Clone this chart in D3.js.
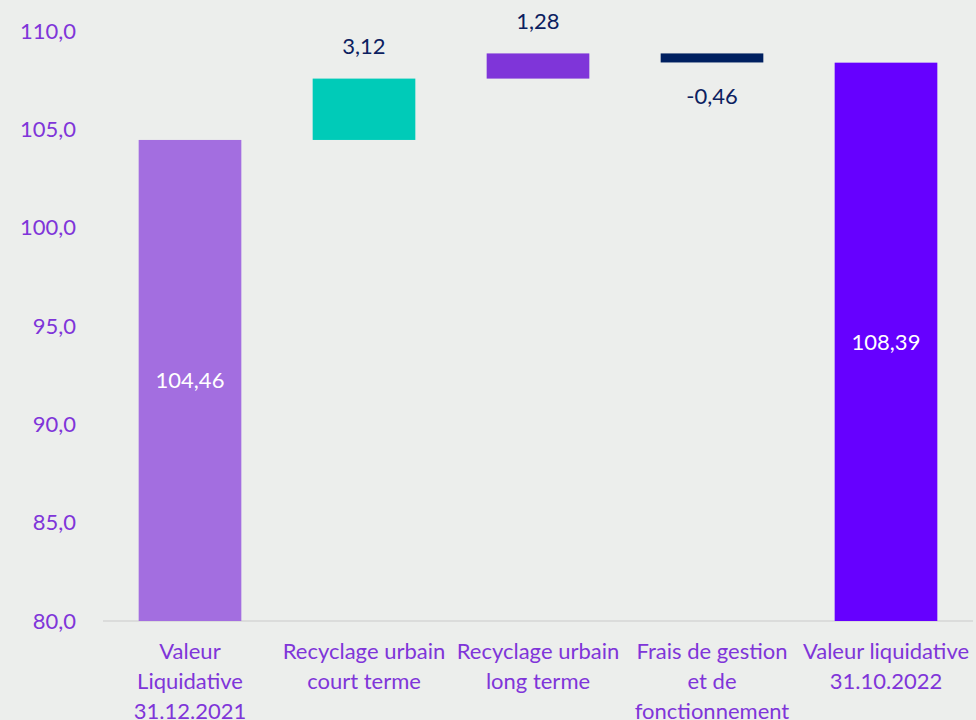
<!DOCTYPE html>
<html>
<head>
<meta charset="utf-8">
<script src="https://cdn.jsdelivr.net/npm/d3@7"></script>
<style>
  body { margin: 0; background: #eceeec; }
  svg { display: block; font-family: Lato, "Open Sans", sans-serif; }
</style>
</head>
<body>
<div id="chart"></div>
<script>
var w = 976, h = 720;

// waterfall data
var categories = [
    ["Valeur", "Liquidative", "31.12.2021"],
    ["Recyclage urbain", "court terme"],
    ["Recyclage urbain", "long terme"],
    ["Frais de gestion", "et de", "fonctionnement"],
    ["Valeur liquidative", "31.10.2022"]
];
var values = [104.46, 3.12, 1.28, -0.46, 108.39];
var isTotal = [true, false, false, false, true];
var barColors = ["#a36ee0", "#00cbb8", "#7f35d9", "#002060", "#6600ff"];
var yTicks = [80, 85, 90, 95, 100, 105, 110];

// compute start/end of each bar
var bars = [];
var running = 0;
values.forEach(function(v, i) {
    var start, end;
    if (isTotal[i]) { start = 80; end = v; running = v; }
    else { start = running; end = running + v; running = end; }
    bars.push({ i: i, value: v, start: start, end: end, total: isTotal[i] });
});

var svg = d3.select("#chart").append("svg")
    .attr("width", w)
    .attr("height", h);

svg.append("rect").attr("width", w).attr("height", h).attr("fill", "#eceeec");

var xScale = d3.scaleBand()
    .domain(d3.range(values.length))
    .range([103, 973])
    .paddingInner(0.41)
    .paddingOuter(0.205);

var yScale = d3.scaleLinear()
    .domain([80, 110])
    .range([621, 31]);

// y axis labels
var yAxis = svg.append("g")
    .attr("transform", "translate(76,0)")
    .call(d3.axisLeft(yScale).tickValues(yTicks).tickSize(0).tickPadding(0)
        .tickFormat(function(d) { return d3.format(".1f")(d).replace(".", ","); }));
yAxis.select(".domain").remove();
yAxis.selectAll("text")
    .style("font-family", "Lato, sans-serif")
    .style("font-size", "22px")
    .style("fill", "#7f35d9");

// baseline
svg.append("line")
    .attr("x1", 103).attr("x2", 973)
    .attr("y1", yScale(80)).attr("y2", yScale(80))
    .style("stroke", "#d6d6d6")
    .style("stroke-width", 1.5);

// bars
svg.selectAll(".bar")
    .data(bars)
    .enter().append("rect")
    .attr("class", "bar")
    .attr("x", d => xScale(d.i))
    .attr("width", xScale.bandwidth())
    .attr("y", d => yScale(Math.max(d.start, d.end)))
    .attr("height", d => Math.abs(yScale(d.start) - yScale(d.end)))
    .style("fill", (d, i) => barColors[i]);

function fmt(v) { return d3.format(".2f")(v).replace(".", ",").replace("−", "-"); }

// value labels
svg.selectAll(".val")
    .data(bars)
    .enter().append("text")
    .attr("class", "val")
    .attr("text-anchor", "middle")
    .attr("dy", "0.35em")
    .attr("x", d => xScale(d.i) + xScale.bandwidth() / 2)
    .attr("y", function(d) {
        if (d.total) return (yScale(d.end) + yScale(80)) / 2;
        if (d.value >= 0) return yScale(d.end) - 32;
        return yScale(d.end) + 34;
    })
    .style("font-size", "22px")
    .style("fill", d => d.total ? "#ffffff" : "#0b2060")
    .text(d => fmt(d.value));

// category labels
var catG = svg.selectAll(".cat")
    .data(categories)
    .enter().append("text")
    .attr("class", "cat")
    .attr("text-anchor", "middle")
    .attr("x", (d, i) => xScale(i) + xScale.bandwidth() / 2)
    .attr("y", 651)
    .style("font-size", "22px")
    .style("fill", "#7f35d9");

catG.selectAll("tspan")
    .data(d => d)
    .enter().append("tspan")
    .attr("x", function() { return d3.select(this.parentNode).attr("x"); })
    .attr("dy", (d, i) => i === 0 ? "0.35em" : "30px")
    .text(d => d);
</script>
</body>
</html>
